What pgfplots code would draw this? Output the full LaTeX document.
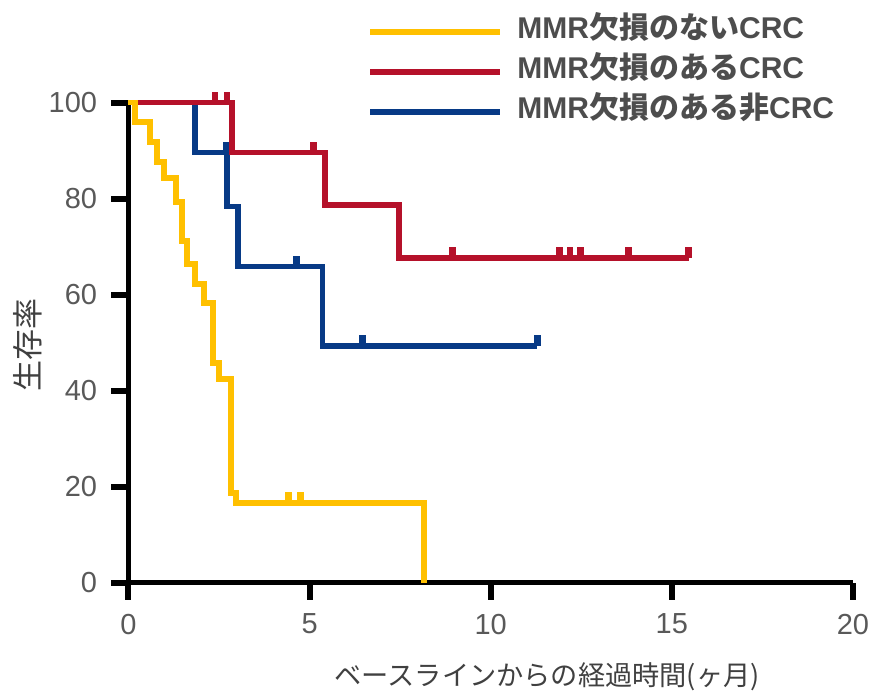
\documentclass[border=0pt]{standalone}
\usepackage{pgfplots}
\pgfplotsset{compat=1.18}
\usepackage{fontspec}
\setmainfont{Liberation Sans}
\newfontfamily\cjk{Noto Sans CJK JP}
\definecolor{ycol}{HTML}{FFC000}
\definecolor{rcol}{HTML}{B5112A}
\definecolor{bcol}{HTML}{073A86}
\definecolor{ticktext}{HTML}{595959}
\definecolor{labtext}{HTML}{404040}
\definecolor{legtext}{HTML}{4D4D4D}
\pgfdeclareplotmark{cens}{%
  \pgfsetlinewidth{3.4pt}\pgfsetbuttcap
  \pgfpathmoveto{\pgfpoint{0pt}{0pt}}%
  \pgfpathlineto{\pgfpoint{0pt}{5.3pt}}%
  \pgfusepathqstroke}
\begin{document}
\begin{tikzpicture}
\useasboundingbox (0,0) rectangle (437pt,346.5pt);
\begin{axis}[
  at={(64.25pt,55.25pt)}, anchor=south west,
  scale only axis, width=362.25pt, height=240pt,
  xmin=0, xmax=20, ymin=0, ymax=100,
  clip=false,
  axis lines=left,
  axis line style={-, line width=2.8pt, black},
  xtick={0,5,10,15,20}, ytick={0,20,40,60,80,100},
  tick align=outside, major tick length=8.5pt,
  tick style={line width=3pt, black},
  /pgf/number format/assume math mode=true,
  ticklabel style={font=\fontsize{14.5}{17}\selectfont, text=ticktext},
  yticklabel style={inner sep=0pt, xshift=-7pt},
  xticklabel style={inner sep=0pt, yshift=-7pt},
  xlabel={\cjk ベースラインからの経過時間(ヶ月)},
  ylabel={\cjk 生存率},
  xlabel style={at={(axis description cs:0.578,-0.197)}, anchor=center, font=\fontsize{13.6}{16}\selectfont, text=labtext, inner sep=0pt},
  ylabel style={at={(axis description cs:-0.1387,0.495)}, anchor=center, rotate=0, font=\fontsize{15.5}{18}\selectfont, text=labtext, inner sep=0pt},
  legend style={at={(rel axis cs:0.329,1.1835)}, anchor=north west, draw=none, fill=none,
    inner sep=0pt, outer sep=0pt, row sep=5pt, column sep=7pt,
    nodes={inner sep=0pt, text height=12pt, text depth=3pt, text=legtext,
      font=\fontsize{15}{17}\selectfont\bfseries}},
  legend cell align=left,
  legend image code/.code={\draw[#1] (0pt,-1.2pt) -- (65pt,-1.2pt);},
]
\addlegendimage{ycol, line width=3.3pt}
\addlegendentry{MMR{\cjk 欠損のない}CRC}
\addlegendimage{rcol, line width=3.3pt}
\addlegendentry{MMR{\cjk 欠損のある}CRC}
\addlegendimage{bcol, line width=3.3pt}
\addlegendentry{MMR{\cjk 欠損のある非}CRC}

% blue: MMR-deficient non-CRC
\addplot[bcol, line width=2.8pt, const plot, mark=none, forget plot] coordinates {
(0,100) (1.84,89.6) (2.72,78.3) (3.02,65.8) (5.35,49.3) (11.28,49.3)};
\addplot[bcol, only marks, mark=cens, forget plot] coordinates {
(2.69,89.6) (4.63,65.8) (6.45,49.3) (11.28,49.3)};

% red: MMR-deficient CRC
\addplot[rcol, line width=2.8pt, const plot, mark=none, forget plot] coordinates {
(0,100) (2.86,89.6) (5.43,78.7) (7.47,67.6) (15.46,67.6)};
\addplot[rcol, only marks, mark=cens, forget plot] coordinates {
(2.39,100) (2.72,100) (5.10,89.6) (8.94,67.6) (11.89,67.6) (12.19,67.6) (12.47,67.6) (13.80,67.6) (15.46,67.6)};

% yellow: MMR-proficient CRC
\addplot[ycol, line width=2.8pt, const plot, mark=none, forget plot] coordinates {
(0,100) (0.18,95.9) (0.59,91.8) (0.79,87.6) (0.98,84.3) (1.31,79.3) (1.48,71.1) (1.62,66.4) (1.84,62.2) (2.09,58.2) (2.33,45.7) (2.50,42.4) (2.83,18.6) (2.97,16.6) (8.16,0)};
\addplot[ycol, only marks, mark=cens, forget plot] coordinates {
(4.42,16.6) (4.74,16.6)};
\end{axis}
\end{tikzpicture}
\end{document}
